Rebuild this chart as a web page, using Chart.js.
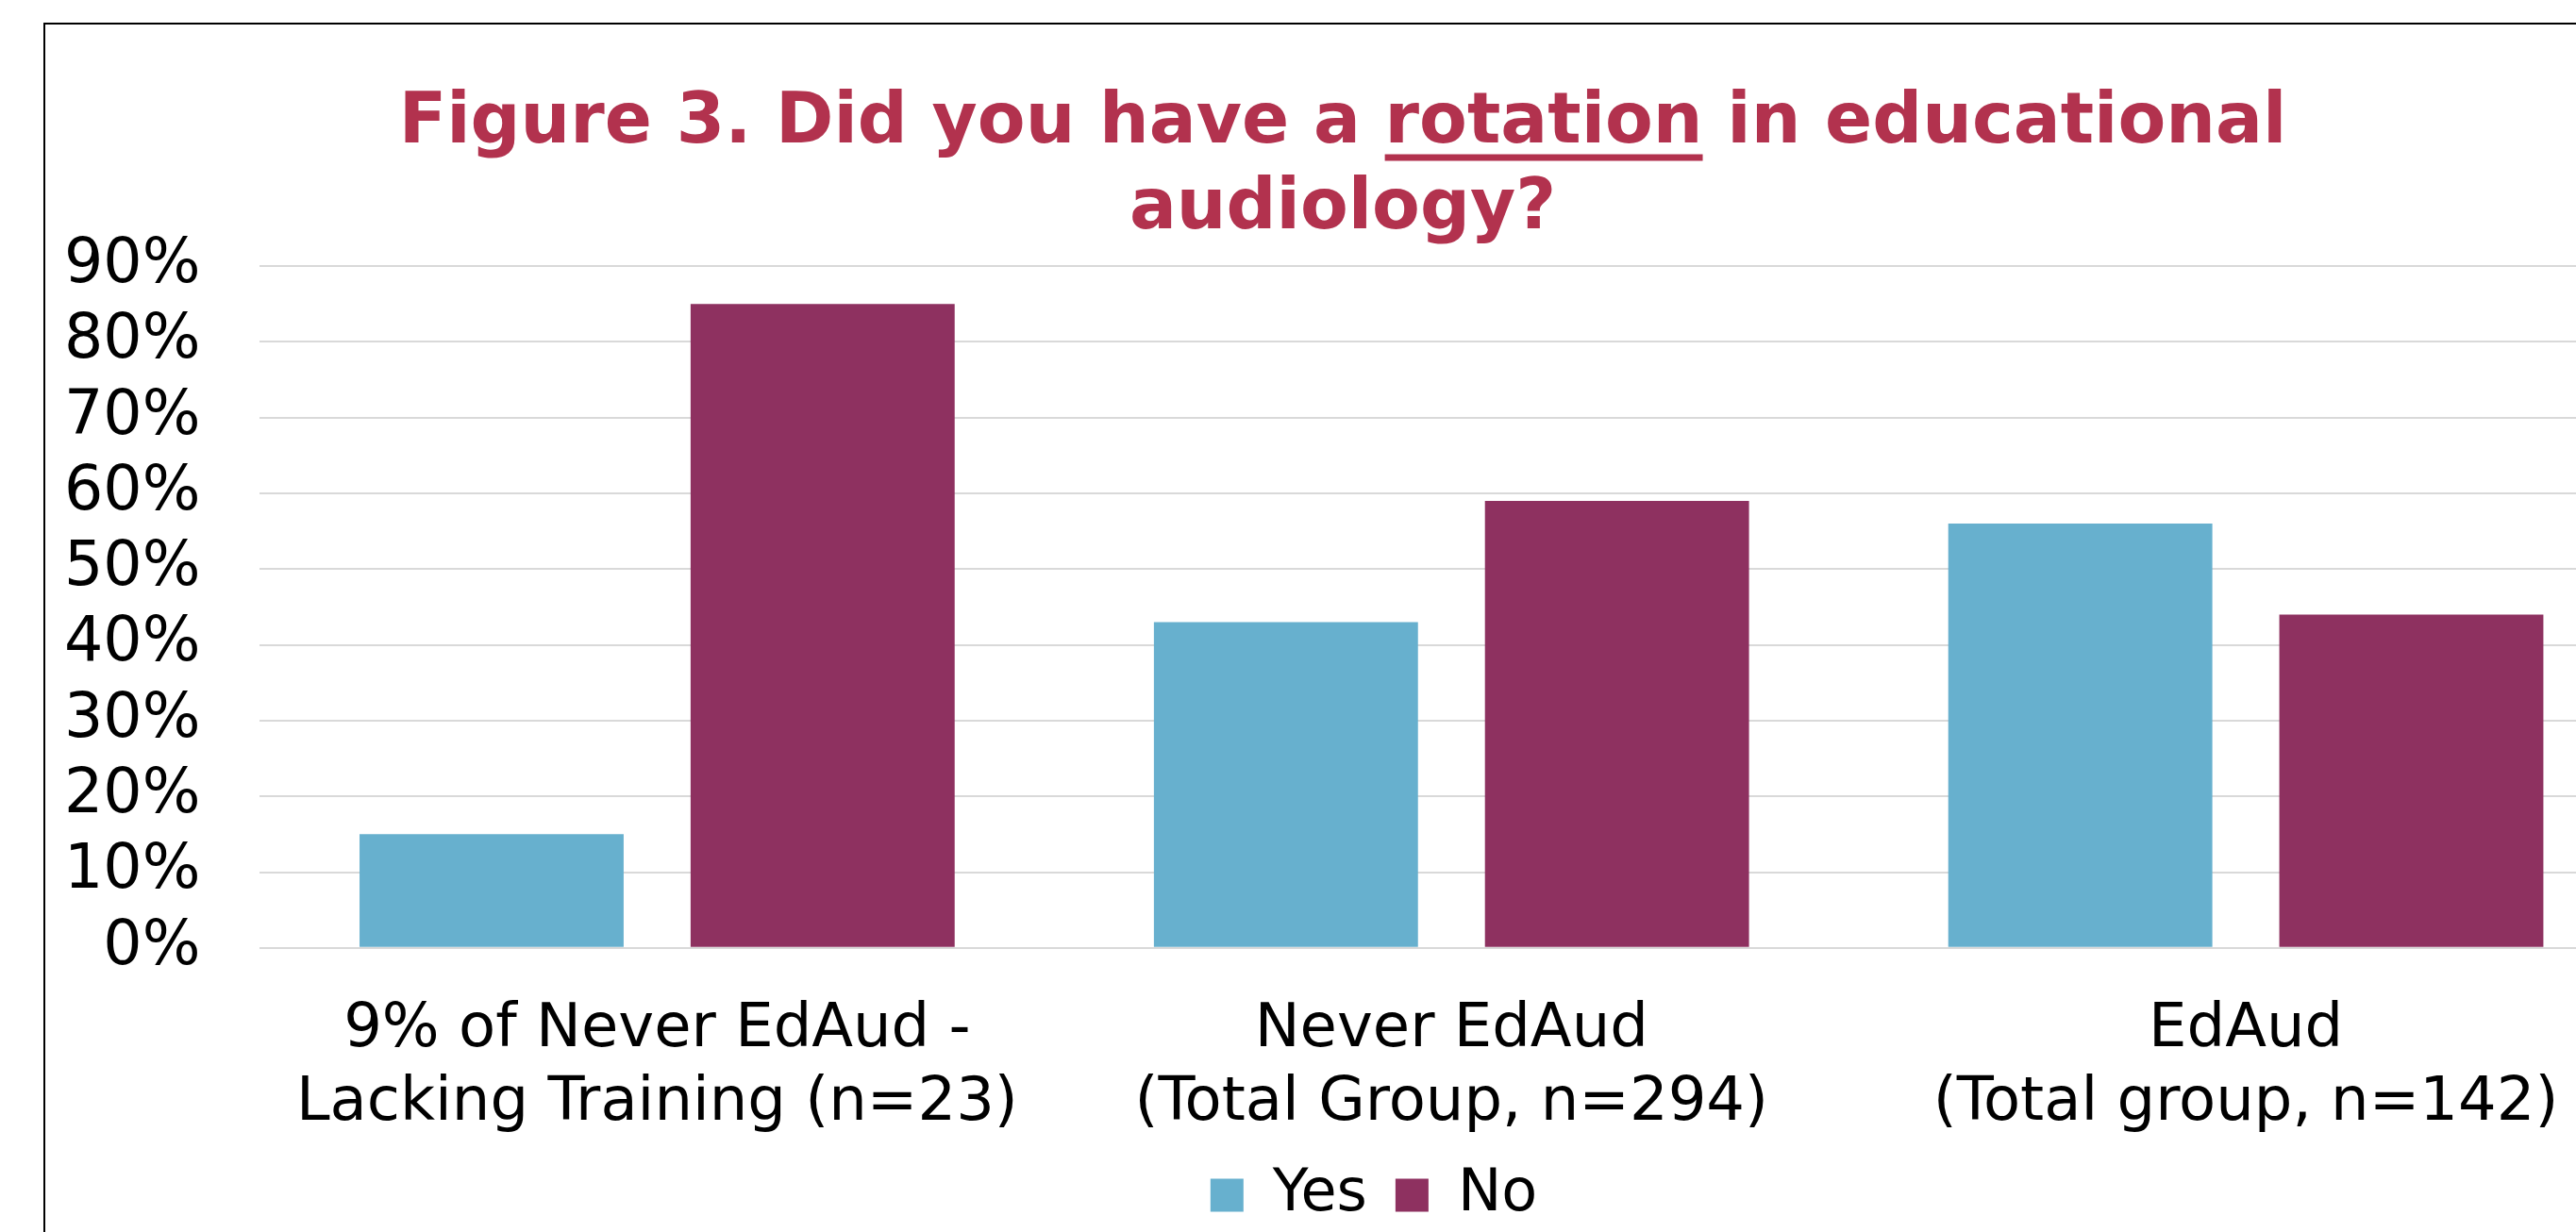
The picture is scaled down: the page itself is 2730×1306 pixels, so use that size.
<!DOCTYPE html>
<html>
<head>
<meta charset="utf-8">
<title>Figure 3</title>
<script src="https://cdn.jsdelivr.net/npm/chart.js@4.4.1/dist/chart.umd.min.js"></script>
<style>
    html, body { margin: 0; padding: 0; background: #ffffff; overflow: hidden; }
    body { width: 2730px; height: 1306px; position: relative; }
    #frame {
        position: absolute; left: 46px; top: 24px;
        width: 2800px; height: 1400px;
        border-left: 2px solid #000000; border-top: 2px solid #000000;
    }
    #chart { position: absolute; left: -43px; top: 0; }
</style>
</head>
<body>
<div id="frame"><canvas id="chart" width="2803" height="1333"></canvas></div>
<script>
// ── Data ──
var categories = [
    ['9% of Never EdAud -', 'Lacking Training (n=23)'],
    ['Never EdAud', '(Total Group, n=294)'],
    ['EdAud', '(Total group, n=142)']
];
var yesValues = [15, 43, 56];
var noValues = [85, 59, 44];
var seriesNames = ['Yes', 'No'];
var yMin = 0;
var yMax = 90;
var yStep = 10;

var titleLines = ['Figure 3. Did you have a rotation in educational', 'audiology?'];
var underlineWord = 'rotation';

// ── Colours ──
var COLOR_YES = '#67B0CE';
var COLOR_NO = '#8E3160';
var COLOR_TITLE = '#B2324E';
var COLOR_GRID = '#D9D9D9';
var FONT = "'DejaVu Sans', Verdana, sans-serif";

// ── Nudge title / legend (Excel places them a bit differently) ──
var layoutNudge = {
    id: 'layoutNudge',
    afterLayout: function (chart) {
        var t = chart.titleBlock;
        if (t) { t.left += 20; t.right += 20; }
        var l = chart.legend;
        if (l) {
            l.left += 53; l.right += 53;
            l.top -= 51; l.bottom -= 51;
        }
    }
};

// ── Underline one word of the title ──
var titleUnderline = {
    id: 'titleUnderline',
    afterDraw: function (chart) {
        var t = chart.titleBlock;
        if (!t) return;
        var opts = t.options;
        var font = Chart.helpers.toFont(opts.font);
        var ctx = chart.ctx;
        ctx.save();
        ctx.font = font.string;
        ctx.textBaseline = 'alphabetic';
        var line = titleLines[0];
        var idx = line.indexOf(underlineWord);
        var full = ctx.measureText(line).width;
        var before = ctx.measureText(line.substring(0, idx)).width;
        var word = ctx.measureText(underlineWord).width;
        var m = ctx.measureText('M');
        var mid = t.top + t._padding.top + font.lineHeight / 2;
        var baseline = mid + (m.fontBoundingBoxAscent - m.fontBoundingBoxDescent) / 2;
        var cx = (t.left + t.right) / 2;
        var x0 = cx - full / 2 + before;
        ctx.fillStyle = opts.color;
        ctx.fillRect(x0, baseline + 6, word, 7);
        ctx.restore();
    }
};

new Chart(document.getElementById('chart'), {
    type: 'bar',
    data: {
        labels: categories,
        datasets: [
            {
                label: seriesNames[0],
                data: yesValues,
                backgroundColor: COLOR_YES,
                borderWidth: 0,
                categoryPercentage: 0.8335,
                barPercentage: 0.7977
            },
            {
                label: seriesNames[1],
                data: noValues,
                backgroundColor: COLOR_NO,
                borderWidth: 0,
                categoryPercentage: 0.8335,
                barPercentage: 0.7977
            }
        ]
    },
    options: {
        responsive: false,
        animation: false,
        layout: { padding: { left: 0, right: 7, top: 0, bottom: 0 } },
        plugins: {
            title: {
                display: true,
                text: titleLines,
                color: COLOR_TITLE,
                font: { family: FONT, size: 74, weight: 'bold', lineHeight: 1.23 },
                padding: { top: 60, bottom: 14 }
            },
            legend: {
                position: 'bottom',
                labels: {
                    color: '#000000',
                    font: { family: FONT, size: 62 },
                    boxWidth: 35,
                    boxHeight: 35,
                    padding: 30
                }
            },
            tooltip: { enabled: false }
        },
        scales: {
            x: {
                grid: { display: false, drawTicks: false },
                border: { display: false },
                ticks: {
                    color: '#000000',
                    font: { family: FONT, size: 64, lineHeight: 1.22 },
                    padding: 48,
                    maxRotation: 0,
                    autoSkip: false
                }
            },
            y: {
                min: yMin,
                max: yMax,
                grid: { color: COLOR_GRID, lineWidth: 2, drawTicks: false },
                border: { display: false },
                ticks: {
                    stepSize: yStep,
                    autoSkip: false,
                    color: '#000000',
                    font: { family: FONT, size: 65 },
                    padding: 63,
                    callback: function (v) { return v + '%'; }
                }
            }
        }
    },
    plugins: [layoutNudge, titleUnderline]
});
</script>
</body>
</html>
